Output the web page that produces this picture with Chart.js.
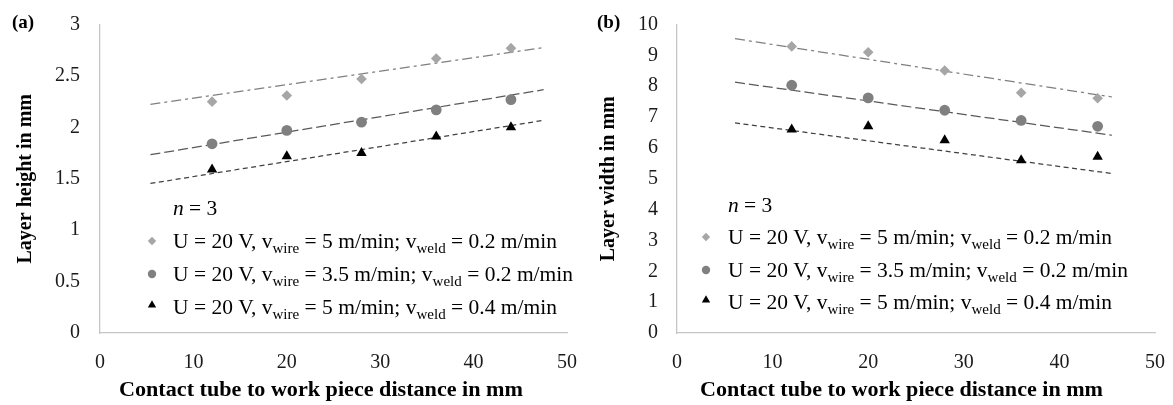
<!DOCTYPE html>
<html><head><meta charset="utf-8">
<script src="https://cdn.jsdelivr.net/npm/chart.js@4/dist/chart.umd.min.js"></script>
<style>
html,body{margin:0;padding:0;background:#fff;}
body{width:1173px;height:405px;position:relative;overflow:hidden;}
canvas{position:absolute;top:0;}
#ca{left:0;} #cb{left:586px;}
</style></head><body>
<canvas id="ca" width="586" height="405"></canvas>
<canvas id="cb" width="587" height="405"></canvas>
<script>
// ---------- data ----------
const distance = [12, 20, 28, 36, 44];
const xTickValues = [0, 10, 20, 30, 40, 50];
const yTicksHeight = [0, 0.5, 1, 1.5, 2, 2.5, 3];
const yTicksWidth = [0, 1, 2, 3, 4, 5, 6, 7, 8, 9, 10];

// (a) layer height in mm
const heightWire5Weld02 = [2.25, 2.31, 2.47, 2.67, 2.77];
const heightWire35Weld02 = [1.84, 1.97, 2.05, 2.17, 2.27];
const heightWire5Weld04 = [1.59, 1.72, 1.75, 1.91, 2.00];
// (a) linear trendlines (end points)
const trendXHeight = [5.4, 47.5];
const trendHeightWire5Weld02 = [2.224, 2.775];
const trendHeightWire35Weld02 = [1.734, 2.366];
const trendHeightWire5Weld04 = [1.454, 2.068];

// (b) layer width in mm
const widthWire5Weld02 = [9.29, 9.10, 8.51, 7.79, 7.61];
const widthWire35Weld02 = [8.03, 7.62, 7.22, 6.89, 6.70];
const widthWire5Weld04 = [6.60, 6.70, 6.25, 5.60, 5.71];
// (b) linear trendlines
const trendXWidth = [6.07, 45.5];
const trendWidthWire5Weld02 = [9.54, 7.65];
const trendWidthWire35Weld02 = [8.13, 6.41];
const trendWidthWire5Weld04 = [6.81, 5.17];

const legendTexts = [
  ["U = 20 V, v", "wire", " = 5 m/min; v", "weld", " = 0.2 m/min"],
  ["U = 20 V, v", "wire", " = 3.5 m/min; v", "weld", " = 0.2 m/min"],
  ["U = 20 V, v", "wire", " = 5 m/min; v", "weld", " = 0.4 m/min"]
];
const xTitle = "Contact tube to work piece distance in mm";

// ---------- styling ----------
const FONT = '"Liberation Serif", "Times New Roman", serif';
const markerStyles = [
  {style: 'rectRot', color: '#a6a6a6', r: 5.3, lr: 4.2},
  {style: 'circle', color: '#808080', r: 5.4, lr: 4.2},
  {style: 'triangle', color: '#000000', r: 6.0, lr: 4.8}
];
const trendStyles = [
  {color: '#7f7f7f', dash: [10, 4, 3, 4]},
  {color: '#595959', dash: [10, 4]},
  {color: '#404040', dash: [5, 3.5]}
];

function pts(xs, ys) { return xs.map((x, i) => ({x: x, y: ys[i]})); }

function drawMarker(ctx, style, x, y, r, color) {
  ctx.save();
  ctx.fillStyle = color;
  ctx.beginPath();
  if (style === 'rectRot') {
    ctx.moveTo(x - r, y); ctx.lineTo(x, y - r); ctx.lineTo(x + r, y); ctx.lineTo(x, y + r);
  } else if (style === 'circle') {
    ctx.arc(x, y, r, 0, Math.PI * 2);
  } else {
    ctx.moveTo(x, y - r); ctx.lineTo(x + r * 0.866, y + r * 0.5); ctx.lineTo(x - r * 0.866, y + r * 0.5);
  }
  ctx.closePath();
  ctx.fill();
  ctx.restore();
}

function segWidth(ctx, parts, main, sub) {
  let w = 0;
  parts.forEach((p, i) => { ctx.font = (i % 2 === 1) ? sub : main; w += ctx.measureText(p).width; });
  return w;
}

const overlayPlugin = {
  id: 'overlay',
  afterDraw(chart, args, o) {
    const ctx = chart.ctx;
    ctx.save();
    ctx.fillStyle = '#000';
    ctx.font = 'bold 19px ' + FONT;
    ctx.textBaseline = 'middle';
    ctx.textAlign = 'left';
    ctx.fillText(o.label, o.labelX, o.labelY);
    // x title
    ctx.font = 'bold 20px ' + FONT;
    const tw = ctx.measureText(xTitle).width;
    const sxT = o.xTitleW / tw;
    ctx.save();
    ctx.translate(o.xTitleCX - o.xTitleW / 2, o.xTitleY);
    ctx.scale(sxT, 1);
    ctx.fillText(xTitle, 0, 0);
    ctx.restore();
    // legend
    const main = '20px ' + FONT, sub = '14px ' + FONT;
    const natural = segWidth(ctx, legendTexts[1], main, sub);
    const sx = o.legendW / natural;
    ctx.textBaseline = 'alphabetic';
    ctx.save();
    ctx.translate(o.textX, o.nY + 7);
    ctx.scale(sx, 1);
    ctx.font = 'italic 20px ' + FONT;
    ctx.fillText('n', 0, 0);
    const nw = ctx.measureText('n').width;
    ctx.font = main;
    ctx.fillText(' = 3', nw, 0);
    ctx.restore();
    legendTexts.forEach((parts, k) => {
      const cy = o.rowsY[k];
      const ms = markerStyles[k];
      drawMarker(ctx, ms.style, o.markerX, cy - (k === 2 ? 2 : 0), ms.lr, ms.color);
      ctx.save();
      ctx.translate(o.textX, cy + 7);
      ctx.scale(sx, 1);
      let x = 0;
      parts.forEach((p, i) => {
        const isSub = i % 2 === 1;
        ctx.font = isSub ? sub : main;
        ctx.fillText(p, x, isSub ? 4.5 : 0);
        x += ctx.measureText(p).width;
      });
      ctx.restore();
    });
    ctx.restore();
  }
};

function makeChart(id, cfg) {
  const canvas = document.getElementById(id);
  const W = canvas.width, H = canvas.height, A = cfg.area;
  const st = {padTop: A.top, padRight: W - A.right, yWidth: A.left, xHeight: H - A.bottom};
  const datasets = [];
  cfg.series.forEach((ys, k) => {
    datasets.push({
      label: 'm' + k, data: pts(distance, ys), showLine: false,
      pointStyle: markerStyles[k].style, pointRadius: markerStyles[k].r,
      pointBackgroundColor: markerStyles[k].color, pointBorderWidth: 0,
      order: 1
    });
  });
  cfg.trends.forEach((ys, k) => {
    datasets.push({
      label: 't' + k, data: pts(cfg.trendX, ys), showLine: true,
      borderColor: trendStyles[k].color, borderDash: trendStyles[k].dash,
      borderWidth: 1.25, pointRadius: 0, fill: false, order: 2
    });
  });
  const chart = new Chart(canvas, {
    type: 'scatter',
    data: {datasets},
    options: {
      responsive: false, animation: false, devicePixelRatio: 1, events: [],
      layout: {padding: {left: 0, right: st.padRight, top: st.padTop, bottom: 0}},
      plugins: {legend: {display: false}, tooltip: {enabled: false}, overlay: cfg.overlay},
      scales: {
        x: {
          type: 'linear', min: 0, max: 50,
          afterBuildTicks: s => { s.ticks = xTickValues.map(v => ({value: v})); },
          afterFit: s => { s.height = st.xHeight; s.paddingLeft = 0; s.paddingRight = 0; },
          grid: {display: false, drawTicks: false},
          border: {display: true, color: '#c6c6c6', width: 1.3},
          ticks: {padding: 18, color: '#1a1a1a', font: {family: FONT, size: 20}, maxRotation: 0,
                  callback: v => String(v)}
        },
        y: {
          type: 'linear', min: cfg.yMin, max: cfg.yMax,
          afterBuildTicks: s => { s.ticks = cfg.yTicks.map(v => ({value: v})); },
          afterFit: s => { s.width = st.yWidth; s.paddingTop = 0; s.paddingBottom = 0; },
          grid: {display: false, drawTicks: false},
          border: {display: true, color: '#c6c6c6', width: 1.3},
          ticks: {padding: cfg.yTickPad, color: '#1a1a1a', font: {family: FONT, size: 20},
                  callback: v => String(v)},
          title: {display: true, text: cfg.yTitle, color: '#000',
                  font: {family: FONT, size: 20, weight: 'bold'}, padding: {top: cfg.yTitlePad, bottom: 0}}
        }
      }
    },
    plugins: [overlayPlugin]
  });
  for (let i = 0; i < 3; i++) {
    const a = chart.chartArea;
    const dt = A.top - a.top, dr = a.right - A.right, dl = A.left - a.left, db = a.bottom - A.bottom;
    if (Math.abs(dt) + Math.abs(dr) + Math.abs(dl) + Math.abs(db) < 0.25) break;
    st.padTop += dt; st.padRight += dr; st.yWidth += dl; st.xHeight += db;
    chart.config.options.layout.padding = {left: 0, right: st.padRight, top: st.padTop, bottom: 0};
    chart.update();
  }
  return chart;
}

makeChart('ca', {
  series: [heightWire5Weld02, heightWire35Weld02, heightWire5Weld04],
  trendX: trendXHeight,
  trends: [trendHeightWire5Weld02, trendHeightWire35Weld02, trendHeightWire5Weld04],
  yMin: 0, yMax: 3, yTicks: yTicksHeight, yTitle: 'Layer height in mm',
  area: {left: 100, top: 24.5, right: 567, bottom: 333},
  yTickPad: 20, yTitlePad: 14,
  overlay: {label: '(a)', labelX: 12, labelY: 23, xTitleCX: 321, xTitleY: 391, xTitleW: 404,
            markerX: 152, textX: 173, nY: 208, rowsY: [241, 274, 307], legendW: 400}
});
makeChart('cb', {
  series: [widthWire5Weld02, widthWire35Weld02, widthWire5Weld04],
  trendX: trendXWidth,
  trends: [trendWidthWire5Weld02, trendWidthWire35Weld02, trendWidthWire5Weld04],
  yMin: 0, yMax: 10, yTicks: yTicksWidth, yTitle: 'Layer width in mm',
  area: {left: 91, top: 24.5, right: 569, bottom: 333},
  yTickPad: 19, yTitlePad: 11,
  overlay: {label: '(b)', labelX: 11, labelY: 23, xTitleCX: 315.5, xTitleY: 391, xTitleW: 403,
            markerX: 120, textX: 142, nY: 205, rowsY: [237, 270, 302], legendW: 400}
});
</script>
</body></html>
